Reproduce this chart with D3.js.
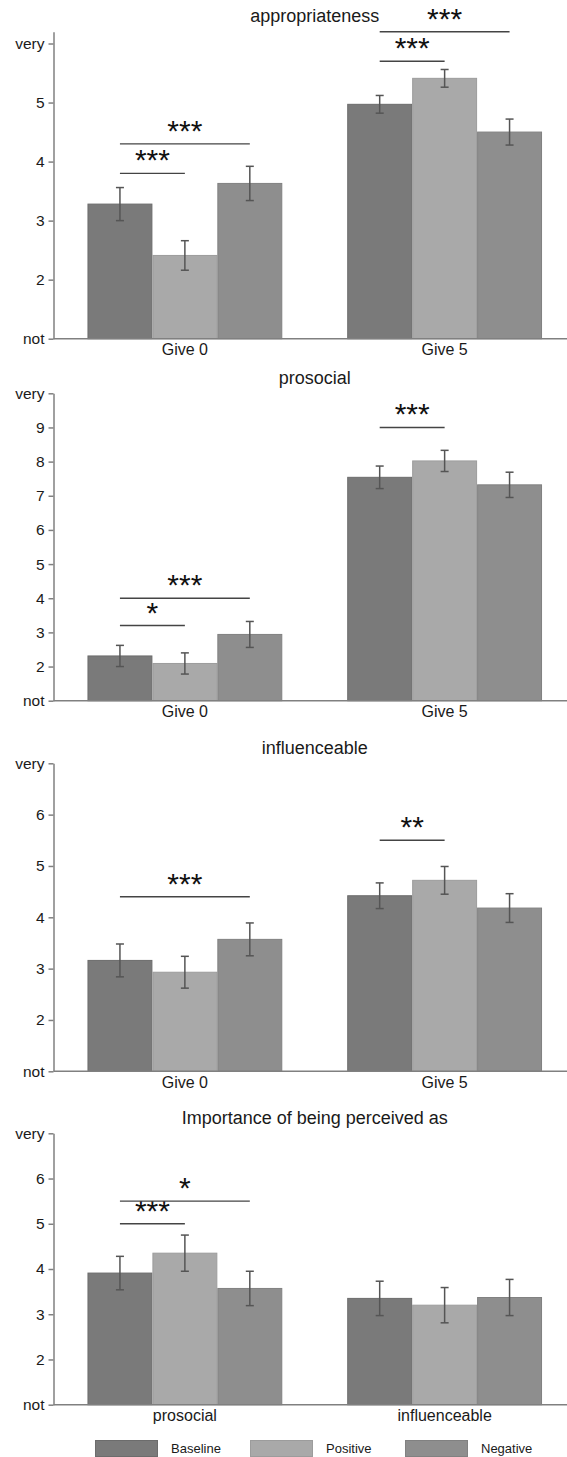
<!DOCTYPE html>
<html>
<head>
<meta charset="utf-8">
<script src="https://cdn.jsdelivr.net/npm/d3@7"></script>
<style>
  body { margin: 0; background: #fff; }
  svg { display: block; font-family: "Liberation Sans", Arial, sans-serif; }
</style>
</head>
<body>
<div id="chart"></div>
<script>
// Data
const conditions = ["Baseline", "Positive", "Negative"]
const titles = ["appropriateness", "prosocial", "influenceable", "Importance of being perceived as"]
const giveGroups = ["Give 0", "Give 5"]
const traitGroups = ["prosocial", "influenceable"]

// means [group][condition] and standard errors
const appropMeans = [[3.28, 2.41, 3.63], [4.97, 5.41, 4.50]]
const appropErr   = [[0.28, 0.25, 0.29], [0.15, 0.15, 0.22]]
const prosocMeans = [[2.31, 2.09, 2.94], [7.54, 8.02, 7.32]]
const prosocErr   = [[0.31, 0.31, 0.38], [0.33, 0.31, 0.37]]
const influMeans  = [[3.16, 2.93, 3.57], [4.42, 4.72, 4.18]]
const influErr    = [[0.32, 0.31, 0.32], [0.25, 0.27, 0.28]]
const importMeans = [[3.91, 4.35, 3.57], [3.35, 3.20, 3.37]]
const importErr   = [[0.37, 0.40, 0.38], [0.38, 0.39, 0.40]]

// significance brackets: group index, from condition, to condition, height, label
const appropSig = [[0, 0, 1, 3.8, "***"], [0, 0, 2, 4.3, "***"], [1, 0, 1, 5.7, "***"], [1, 0, 2, 6.2, "***"]]
const prosocSig = [[0, 0, 1, 3.2, "*"], [0, 0, 2, 4.0, "***"], [1, 0, 1, 9.0, "***"]]
const influSig  = [[0, 0, 2, 4.4, "***"], [1, 0, 1, 5.5, "**"]]
const importSig = [[0, 0, 1, 5.0, "***"], [0, 0, 2, 5.5, "*"]]

// y axis: top of scale ("very") and top of domain
const veryValues = [6, 10, 7, 7]
const domainTops = [6.2, 10, 7, 7]

const panels = [
    {title: titles[0], groups: giveGroups,  means: appropMeans, err: appropErr, sig: appropSig, very: veryValues[0], top: domainTops[0]},
    {title: titles[1], groups: giveGroups,  means: prosocMeans, err: prosocErr, sig: prosocSig, very: veryValues[1], top: domainTops[1]},
    {title: titles[2], groups: giveGroups,  means: influMeans,  err: influErr,  sig: influSig,  very: veryValues[2], top: domainTops[2]},
    {title: titles[3], groups: traitGroups, means: importMeans, err: importErr, sig: importSig, very: veryValues[3], top: domainTops[3]}
]

// Layout
const WIDTH = 567
const HEIGHT = 1457
const AXIS_X = 53.5
const PANEL_Y = [{top: 31.7, bottom: 338.7}, {top: 393.3, bottom: 700.7}, {top: 763.3, bottom: 1071.3}, {top: 1133.3, bottom: 1404.7}]
const FILL = {Baseline: "#7a7a7a", Positive: "#a9a9a9", Negative: "#8e8e8e"}
const STROKE = {Baseline: "#6c6c6c", Positive: "#9c9c9c", Negative: "#818181"}

let svg = d3.select("#chart").append("svg")
    .attr("width", WIDTH)
    .attr("height", HEIGHT)

// outer band = groups, inner band = conditions
panels.forEach(function(p, pi) {
    let g = svg.append("g")

    let x0 = d3.scaleBand()
        .domain(d3.range(p.groups.length))
        .range([55, 574.5])
        .paddingInner(0.25)
        .paddingOuter(0.125)

    let x1 = d3.scaleBand()
        .domain(conditions)
        .range([0, x0.bandwidth()])

    let y = d3.scaleLinear()
        .domain([1, p.top])
        .range([PANEL_Y[pi].bottom, PANEL_Y[pi].top])

    // title
    g.append("text")
        .attr("x", (55 + 574.5) / 2)
        .attr("y", PANEL_Y[pi].top - (pi == 0 ? 10 : 9))
        .attr("text-anchor", "middle")
        .style("font-size", "18px")
        .style("fill", "#1a1a1a")
        .text(p.title)

    // bars
    let rows = []
    p.means.forEach(function(gm, gi) {
        gm.forEach(function(v, ci) {
            rows.push({g: gi, c: conditions[ci], v: v, e: p.err[gi][ci]})
        })
    })

    g.selectAll("rect.bar")
        .data(rows)
        .enter()
        .append("rect")
        .attr("class", "bar")
        .attr("x", d => x0(d.g) + x1(d.c) + 0.5)
        .attr("y", d => y(d.v))
        .attr("width", x1.bandwidth() - 1)
        .attr("height", d => y(1) - y(d.v))
        .style("fill", d => FILL[d.c])
        .style("stroke", d => STROKE[d.c])
        .style("stroke-width", 1)

    // error bars
    let eb = g.selectAll("g.err")
        .data(rows)
        .enter()
        .append("g")
        .attr("class", "err")
        .attr("transform", d => "translate(" + (x0(d.g) + x1(d.c) + x1.bandwidth() / 2) + ",0)")
        .style("stroke", "#555")
        .style("stroke-width", 1.5)

    eb.append("line").attr("x1", 0).attr("x2", 0).attr("y1", d => y(d.v + d.e)).attr("y2", d => y(d.v - d.e))
    eb.append("line").attr("x1", -4).attr("x2", 4).attr("y1", d => y(d.v + d.e)).attr("y2", d => y(d.v + d.e))
    eb.append("line").attr("x1", -4).attr("x2", 4).attr("y1", d => y(d.v - d.e)).attr("y2", d => y(d.v - d.e))

    // significance brackets
    let sg = g.selectAll("g.sig")
        .data(p.sig)
        .enter()
        .append("g")
        .attr("class", "sig")

    let cx = (gi, ci) => x0(gi) + x1(conditions[ci]) + x1.bandwidth() / 2

    sg.append("line")
        .attr("x1", d => cx(d[0], d[1]))
        .attr("x2", d => cx(d[0], d[2]))
        .attr("y1", d => y(d[3]))
        .attr("y2", d => y(d[3]))
        .style("stroke", "#444")
        .style("stroke-width", 1.4)

    sg.append("text")
        .attr("x", d => (cx(d[0], d[1]) + cx(d[0], d[2])) / 2)
        .attr("y", d => y(d[3]) - 3)
        .attr("text-anchor", "middle")
        .style("font-size", "30px")
        .style("fill", "#111")
        .text(d => d[4])

    // y axis
    let ticks = d3.range(1, p.very + 1)
    let yAxis = g.append("g")
        .attr("transform", "translate(" + AXIS_X + ",0)")
        .call(d3.axisLeft(y)
            .tickValues(ticks)
            .tickSize(5)
            .tickSizeOuter(0)
            .tickPadding(4)
            .tickFormat(d => d == 1 ? "not" : (d == p.very ? "very" : d)))
    yAxis.select(".domain").style("stroke", "#808080").style("stroke-width", 1.5)
    yAxis.selectAll(".tick line").style("stroke", "#808080").style("stroke-width", 1.5)
    yAxis.selectAll(".tick text").style("font-size", "15.5px").style("fill", "#1a1a1a").attr("font-family", null)

    // x axis: baseline line plus group labels
    g.append("line")
        .attr("x1", AXIS_X)
        .attr("x2", WIDTH)
        .attr("y1", y(1))
        .attr("y2", y(1))
        .style("stroke", "#808080")
        .style("stroke-width", 1.5)

    let xAxis = g.append("g")
        .attr("transform", "translate(0," + y(1) + ")")
        .call(d3.axisBottom(x0).tickSize(0).tickPadding(5).tickFormat(i => p.groups[i]))
    xAxis.select(".domain").remove()
    xAxis.selectAll(".tick text").style("font-size", "16px").style("fill", "#1a1a1a").attr("font-family", null)
})

// legend
let legend = svg.selectAll("g.legend")
    .data(conditions)
    .enter()
    .append("g")
    .attr("class", "legend")
    .attr("transform", (d, i) => "translate(" + (95.5 + i * 155) + ",1440.5)")

legend.append("rect")
    .attr("width", 62)
    .attr("height", 16)
    .style("fill", d => FILL[d])
    .style("stroke", d => STROKE[d])

legend.append("text")
    .attr("x", 75.5)
    .attr("y", 12)
    .style("font-size", "13px")
    .style("fill", "#1a1a1a")
    .text(d => d)
</script>
</body>
</html>
